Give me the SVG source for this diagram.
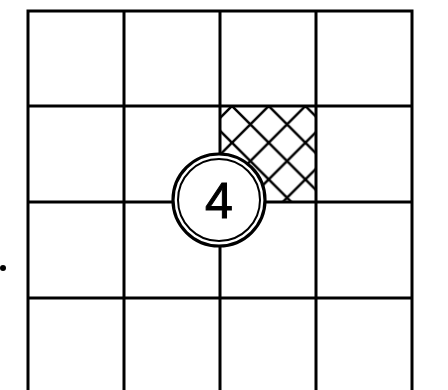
<svg xmlns="http://www.w3.org/2000/svg" width="448" height="390" viewBox="0 0 448 390">
<style>
.grid{stroke:#000;stroke-width:3;fill:none;stroke-linecap:square}
.hatch{stroke:#000;stroke-width:2.5}
.ring-outer{fill:#fff;stroke:#000;stroke-width:3.2}
.ring-inner{fill:none;stroke:#000;stroke-width:2}
.num{font-family:"Liberation Sans",Arial,sans-serif;font-size:50px;fill:#000;stroke:#000;stroke-width:1;text-anchor:middle}
</style>
<defs>
<pattern id="xh" patternUnits="userSpaceOnUse" x="232" y="106" width="36.7" height="36.7">
<path class="hatch" d="M-2,-2 L38.7,38.7 M-2,38.7 L38.7,-2"/>
</pattern>
</defs>
<rect width="448" height="390" fill="#fff"/>
<g id="hatched-cell">
<rect x="220" y="106" width="96" height="96" fill="url(#xh)"/>
</g>
<g id="connectors">
<path class="grid" d="M28,11 H412 M28,106 H412 M28,202 H412 M28,298 H412 M28,11 V392 M124,11 V392 M220,11 V392 M316,11 V392 M412,11 V392"/>
</g>
<g id="node-4">
<circle class="ring-outer" cx="219" cy="200" r="46"/>
<circle class="ring-inner" cx="219" cy="200" r="41"/>
<text class="num" x="219" y="218">4</text>
</g>
<g id="dot">
<circle cx="3" cy="268" r="3" fill="#000"/>
</g>
</svg>
